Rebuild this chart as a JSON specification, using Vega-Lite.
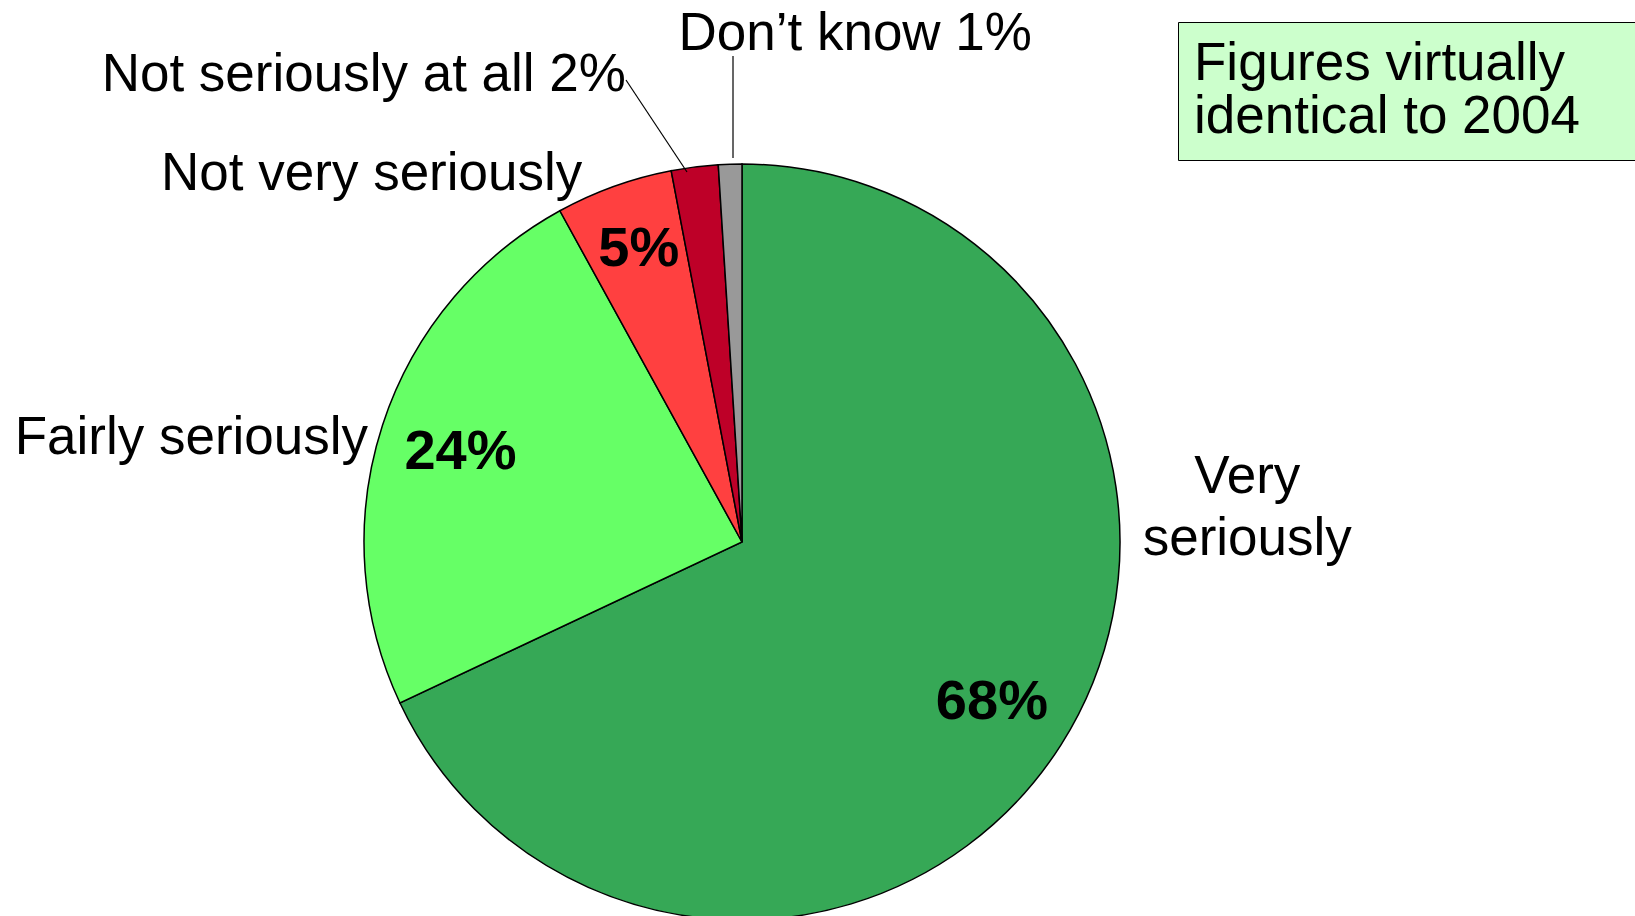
{
  "$schema": "https://vega.github.io/schema/vega-lite/v6.json",
  "autosize": {"type": "none"},
  "width": 756,
  "height": 748,
  "padding": {"left": 364, "top": 168, "right": 515, "bottom": 0},
  "background": "white",
  "config": {"view": {"stroke": null}, "font": "Liberation Sans"},
  "data": {
    "values": [
      {"response": "Very seriously", "share": 0.68, "rank": 1, "label": "Very seriously"},
      {"response": "Fairly seriously", "share": 0.24, "rank": 2, "label": "Fairly seriously"},
      {"response": "Not very seriously", "share": 0.05, "rank": 3, "label": "Not very seriously"},
      {"response": "Not seriously at all", "share": 0.02, "rank": 4, "label": "Not seriously at all 2%"},
      {"response": "Don't know", "share": 0.01, "rank": 5, "label": "Don’t know 1%"}
    ]
  },
  "layer": [
    {
      "mark": {"type": "arc", "outerRadius": 378, "strokeWidth": 1.5},
      "encoding": {
        "theta": {"field": "share", "type": "quantitative", "stack": true},
        "order": {"field": "rank", "type": "quantitative"},
        "fill": {
          "field": "response", "type": "nominal",
          "scale": {
            "domain": ["Very seriously", "Fairly seriously", "Not very seriously", "Not seriously at all", "Don't know"],
            "range": ["#36A856", "#66FF66", "#FF4040", "#BE0028", "#999999"]
          },
          "legend": null
        },
        "stroke": {
          "datum": "note", "type": "nominal",
          "scale": {"range": ["black"]},
          "legend": {
            "title": ["Figures virtually", "identical to 2004"],
            "orient": "none", "legendX": 814, "legendY": -146,
            "fillColor": "#CCFFCC", "strokeColor": "black", "padding": 16,
            "titleFont": "Liberation Sans", "titleFontSize": 53, "titleFontWeight": "normal",
            "titleColor": "black", "titleLineHeight": 53, "titleLimit": 1000, "titlePadding": -24,
            "symbolSize": 0, "symbolStrokeWidth": 0, "symbolOpacity": 0, "symbolOffset": 450,
            "labelFontSize": 0, "labelOpacity": 0, "labelExpr": "''", "labelOffset": 0,
            "encode": {
              "legend": {"update": {"strokeWidth": {"value": 2}}}
            }
          }
        }
      }
    },
    {
      "mark": {"type": "text", "radius": 296, "font": "Liberation Sans", "fontSize": 56, "fontWeight": "bold", "align": "center", "baseline": "alphabetic", "dy": 18, "color": "black"},
      "encoding": {
        "theta": {"field": "share", "type": "quantitative", "stack": true},
        "order": {"field": "rank", "type": "quantitative"},
        "text": {"condition": {"test": "datum.share >= 0.2", "field": "share", "type": "quantitative", "format": ".0%"}, "value": ""}
      }
    },
    {
      "mark": {"type": "text", "radius": 296, "font": "Liberation Sans", "fontSize": 56, "fontWeight": "bold", "align": "center", "baseline": "alphabetic", "dx": -3, "dy": 3, "color": "black"},
      "encoding": {
        "theta": {"field": "share", "type": "quantitative", "stack": true},
        "order": {"field": "rank", "type": "quantitative"},
        "text": {"condition": {"test": "datum.rank == 3", "field": "share", "type": "quantitative", "format": ".0%"}, "value": ""}
      }
    },
    {
      "mark": {"type": "text", "radius": 480, "font": "Liberation Sans", "fontSize": 53, "align": "center", "baseline": "alphabetic", "lineBreak": " ", "lineHeight": 62, "dx": 100, "dy": -306, "color": "black"},
      "encoding": {
        "theta": {"field": "share", "type": "quantitative", "stack": true},
        "order": {"field": "rank", "type": "quantitative"},
        "text": {"condition": {"test": "datum.rank == 1", "field": "label", "type": "nominal"}, "value": ""}
      }
    },
    {
      "mark": {"type": "text", "radius": 390, "font": "Liberation Sans", "fontSize": 53, "align": "right", "baseline": "alphabetic", "dx": -3, "dy": 33, "color": "black"},
      "encoding": {
        "theta": {"field": "share", "type": "quantitative", "stack": true},
        "order": {"field": "rank", "type": "quantitative"},
        "text": {"condition": {"test": "datum.rank == 2", "field": "label", "type": "nominal"}, "value": ""}
      }
    },
    {
      "mark": {"type": "text", "radius": 380, "font": "Liberation Sans", "fontSize": 53, "align": "right", "baseline": "alphabetic", "dx": -31, "dy": 6, "color": "black"},
      "encoding": {
        "theta": {"field": "share", "type": "quantitative", "stack": true},
        "order": {"field": "rank", "type": "quantitative"},
        "text": {"condition": {"test": "datum.rank == 3", "field": "label", "type": "nominal"}, "value": ""}
      }
    },
    {
      "mark": {"type": "text", "radius": 455, "font": "Liberation Sans", "fontSize": 53, "align": "right", "baseline": "alphabetic", "dx": -59, "dy": 0, "color": "black"},
      "encoding": {
        "theta": {"field": "share", "type": "quantitative", "stack": true},
        "order": {"field": "rank", "type": "quantitative"},
        "text": {"condition": {"test": "datum.rank == 4", "field": "label", "type": "nominal"}, "value": ""}
      }
    },
    {
      "mark": {"type": "text", "radius": 495, "font": "Liberation Sans", "fontSize": 53, "align": "left", "baseline": "alphabetic", "dx": -48, "dy": 3, "color": "black"},
      "encoding": {
        "theta": {"field": "share", "type": "quantitative", "stack": true},
        "order": {"field": "rank", "type": "quantitative"},
        "text": {"condition": {"test": "datum.rank == 5", "field": "label", "type": "nominal"}, "value": ""}
      }
    },
    {
      "data": {"values": [{}]},
      "mark": {"type": "rule", "color": "black", "strokeWidth": 1.2},
      "encoding": {
        "x": {"datum": -0.3069, "type": "quantitative", "scale": {"domain": [-1, 1], "zero": false, "nice": false}, "axis": null},
        "y": {"datum": 1.2353, "type": "quantitative", "scale": {"domain": [-1, 1], "zero": false, "nice": false}, "axis": null},
        "x2": {"datum": -0.1455},
        "y2": {"datum": 0.9893}
      }
    },
    {
      "data": {"values": [{}]},
      "mark": {"type": "rule", "color": "black", "strokeWidth": 1.2},
      "encoding": {
        "x": {"datum": -0.0238, "type": "quantitative", "axis": null},
        "y": {"datum": 1.2995, "type": "quantitative", "axis": null},
        "x2": {"datum": -0.0238},
        "y2": {"datum": 1.0267}
      }
    }
  ]
}
